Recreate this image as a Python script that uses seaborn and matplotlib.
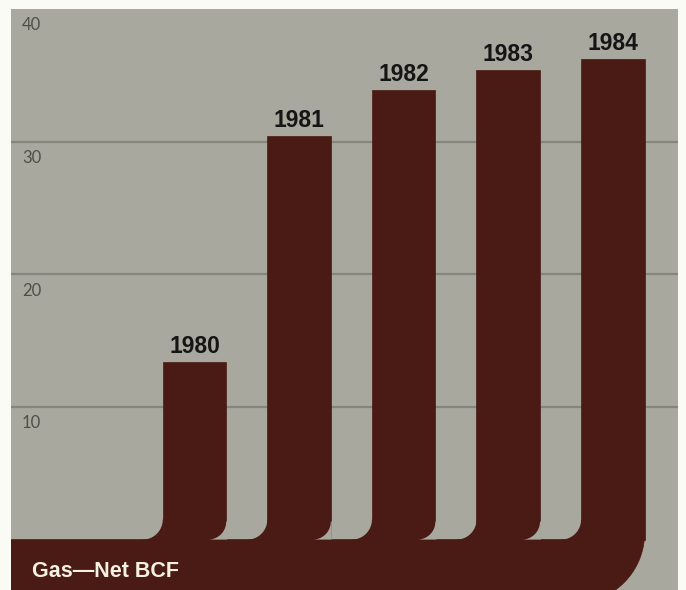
import numpy as np
import matplotlib
matplotlib.use("Agg")
import matplotlib.pyplot as plt
from matplotlib.patches import Polygon
import pandas as pd
import seaborn as sns

# Net gas volumes (billion cubic feet) by year
years = ["1980", "1981", "1982", "1983", "1984"]
net_bcf = [13.4, 30.4, 33.9, 35.4, 36.2]

# Value axis reference lines and their labels
grid_values = [10, 20, 30]
axis_label_values = [10, 20, 30, 40]
axis_labels = ["10", "20", "30", "40"]
caption = "Gas\u2014Net BCF"

PAGE = "#fbfbf6"
PANEL = "#a9a89e"
BROWN = "#4a1a15"
GRID = "#85857e"

sns.set_theme(style="white")
plt.rcParams["font.family"] = ["Liberation Sans", "DejaVu Sans"]

W, H = 686, 590
fig = plt.figure(figsize=(W / 100, H / 100), dpi=100, facecolor=PAGE)
ax_left, ax_top, ax_right = 11, 9, 678
ax = fig.add_axes([ax_left / W, 0, (ax_right - ax_left) / W, (H - ax_top) / H])
ax.set_facecolor(PANEL)

XLIM = (-1.754, 4.623)
YLIM = (-3.8, 40)

df = pd.DataFrame({"year": years, "bcf": net_bcf})
sns.barplot(data=df, x="year", y="bcf", order=years, color=BROWN,
            saturation=1, width=0.607, edgecolor=BROWN, linewidth=0.5,
            ax=ax, zorder=3)
ax.set_xlim(*XLIM)
ax.set_ylim(*YLIM)

# pixel -> data conversion for circular corners
px_x = (ax_right - ax_left) / (XLIM[1] - XLIM[0])
px_y = (H - ax_top) / (YLIM[1] - YLIM[0])


def corner(x_edge, r_px, ox_px=0.0, oy_px=0.0):
    """Region in the corner at (x_edge, 0) outside a quarter circle."""
    rx, ry = r_px / px_x, r_px / px_y
    cx, cy = x_edge - rx, ry
    t = np.linspace(-np.pi / 2, 0, 40)
    arc = np.column_stack([cx + rx * np.cos(t), cy + ry * np.sin(t)])
    ox = ox_px / px_x
    oy = oy_px / px_y
    pts = np.vstack([[[x_edge + ox, ry], [x_edge + ox, -oy], [x_edge - rx, -oy]], arc])
    return pts


bars = list(ax.patches)
x_lefts = [b.get_x() for b in bars]
x_rights = [b.get_x() + b.get_width() for b in bars]

# horizontal trunk along the bottom, bending down at the last bar
xr_last = x_rights[-1]
yc = 0.49
Rx, Ry = 70 / px_x, 70 / px_y
t = np.linspace(0, -np.pi / 2, 60)
elbow = np.column_stack([xr_last - Rx + Rx * np.cos(t), yc + Ry * np.sin(t)])
lift = 1.5 / px_y
trunk = np.vstack([[[XLIM[0] - 1, 0], [x_lefts[-1], 0], [x_lefts[-1], lift],
                    [xr_last, lift], [xr_last, yc]],
                   elbow,
                   [[XLIM[0] - 1, yc - Ry]]])
ax.add_patch(Polygon(trunk, closed=True, facecolor=BROWN, edgecolor=BROWN,
                     lw=0.5, zorder=3))
# overlap the trunk under every bar so no seam shows
for xl, xr in zip(x_lefts, x_rights):
    ax.add_patch(Polygon([[xl, -lift], [xr, -lift], [xr, lift], [xl, lift]],
                         closed=True, facecolor=BROWN, edgecolor="none", zorder=3))

# fillets joining each bar into the trunk
for xl in x_lefts:
    ax.add_patch(Polygon(corner(xl, 20, ox_px=1.0, oy_px=1.0), closed=True,
                         facecolor=BROWN, edgecolor="none", zorder=3))
# rounded outer corner on the right foot of every bar but the last
for xr in x_rights[:-1]:
    ax.add_patch(Polygon(corner(xr, 18, ox_px=1.0, oy_px=0.0), closed=True,
                         facecolor=PANEL, edgecolor="none", zorder=4))

for g in grid_values:
    ax.axhline(g, color=GRID, lw=1.6, zorder=1)

for v, lab in zip(axis_label_values, axis_labels):
    ax.text((22 - ax_left) / (ax_right - ax_left), v - 0.62, lab,
            transform=ax.get_yaxis_transform(), ha="left", va="top",
            fontsize=12, color="#4f4f49", family=["Lato", "DejaVu Sans"],
            zorder=5)

ax.bar_label(ax.containers[0], labels=years, padding=3, fontsize=16.5,
             fontweight="bold", color="#151515",
             family=["Liberation Sans Narrow", "Liberation Sans", "DejaVu Sans"],
             zorder=6)

ax.text((32 - ax_left) / (ax_right - ax_left), (539.5 - 577) / px_y, caption,
        transform=ax.get_yaxis_transform(), ha="left", va="baseline",
        fontsize=15.5, fontweight="bold", color="#f4f0e2", zorder=6)

for s in ax.spines.values():
    s.set_visible(False)
ax.set_xticks([])
ax.set_yticks([])
ax.set_xlabel("")
ax.set_ylabel("")

fig.savefig("out.png", dpi=100, facecolor=PAGE)
